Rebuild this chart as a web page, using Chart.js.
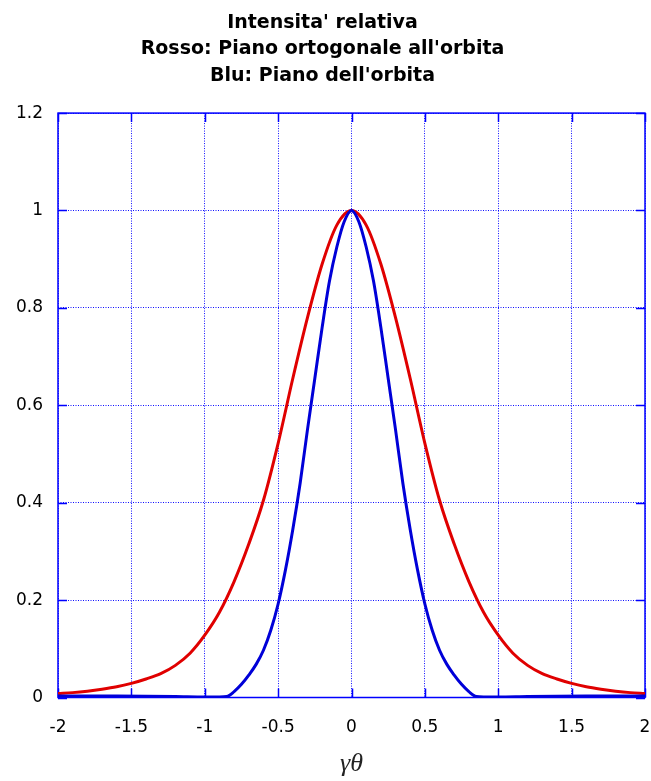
<!DOCTYPE html>
<html>
<head>
<meta charset="utf-8">
<script src="https://cdn.jsdelivr.net/npm/chart.js@4/dist/chart.umd.min.js"></script>
<style>
    html, body { margin: 0; padding: 0; background: #fff; }
    #wrap { width: 651px; height: 781px; }
</style>
</head>
<body>
<div id="wrap"><canvas id="intensityChart"></canvas></div>
<script>
// gamma*theta values for the red curve (piano ortogonale)
const redX = [-2, -1.9, -1.8, -1.7, -1.6, -1.5, -1.4, -1.3, -1.2, -1.1, -1,
    -0.9, -0.8, -0.7, -0.6, -0.5, -0.4, -0.3, -0.2, -0.1, 0,
    0.1, 0.2, 0.3, 0.4, 0.5, 0.6, 0.7, 0.8, 0.9, 1,
    1.1, 1.2, 1.3, 1.4, 1.5, 1.6, 1.7, 1.8, 1.9, 2];
const redY = [0.008, 0.010, 0.013, 0.017, 0.022, 0.029, 0.038, 0.049, 0.066, 0.091, 0.128,
    0.175, 0.238, 0.315, 0.405, 0.522, 0.655, 0.78, 0.89, 0.97, 1.0,
    0.97, 0.89, 0.78, 0.655, 0.522, 0.405, 0.315, 0.238, 0.175, 0.128,
    0.091, 0.066, 0.049, 0.038, 0.029, 0.022, 0.017, 0.013, 0.010, 0.008];

// gamma*theta values for the blue curve (piano dell'orbita)
const blueX = [-2, -1.6, -1.2, -1, -0.9, -0.85, -0.8, -0.75, -0.7, -0.65, -0.6, -0.55,
    -0.5, -0.45, -0.4, -0.35, -0.3, -0.25, -0.2, -0.15, -0.1, -0.05, 0,
    0.05, 0.1, 0.15, 0.2, 0.25, 0.3, 0.35, 0.4, 0.45, 0.5,
    0.55, 0.6, 0.65, 0.7, 0.75, 0.8, 0.85, 0.9, 1, 1.2, 1.6, 2];
const blueY = [0.003, 0.003, 0.002, 0.001, 0.001, 0.002, 0.012, 0.027, 0.046, 0.068, 0.097, 0.138,
    0.192, 0.262, 0.345, 0.44, 0.55, 0.655, 0.76, 0.855, 0.925, 0.977, 1.0,
    0.977, 0.925, 0.855, 0.76, 0.655, 0.55, 0.44, 0.345, 0.262, 0.192,
    0.138, 0.097, 0.068, 0.046, 0.027, 0.012, 0.002, 0.001, 0.001, 0.002, 0.003, 0.003];

const xTicks = [-2, -1.5, -1, -0.5, 0, 0.5, 1, 1.5, 2];
const yTicks = [0, 0.2, 0.4, 0.6, 0.8, 1, 1.2];

const titleLines = ["Intensita' relativa", "Rosso: Piano ortogonale all'orbita", "Blu: Piano dell'orbita"];

const frameBlue = "#0000ff";
const gridBlue = "rgba(0,0,255,0.95)";
const tickFont = { family: "DejaVu Sans", size: 17 };

// solid frame + short inward ticks on every side
const frameTicks = {
    id: "frameTicks",
    beforeDatasetsDraw(chart) {
        const { ctx, chartArea: a, scales } = chart;
        const tl = 9;
        ctx.save();
        ctx.strokeStyle = frameBlue;
        ctx.lineWidth = 1.5;
        ctx.beginPath();
        xTicks.forEach((v) => {
            const px = Math.round(scales.x.getPixelForValue(v)) + 0.5;
            ctx.moveTo(px, a.bottom);
            ctx.lineTo(px, a.bottom - tl);
            ctx.moveTo(px, a.top);
            ctx.lineTo(px, a.top + tl);
        });
        yTicks.forEach((v) => {
            const py = Math.round(scales.y.getPixelForValue(v)) + 0.5;
            ctx.moveTo(a.left, py);
            ctx.lineTo(a.left + tl, py);
            ctx.moveTo(a.right, py);
            ctx.lineTo(a.right - tl, py);
        });
        ctx.stroke();
        ctx.strokeRect(a.left, a.top, a.right - a.left, a.bottom - a.top);
        ctx.restore();
    },
};

let intensityCtx = document.getElementById("intensityChart").getContext("2d");
let intensityChart = new Chart(intensityCtx, {
    type: "line",
    data: {
        datasets: [
            {
                label: "Piano dell'orbita",
                data: blueX.map((x, i) => ({ x: x, y: blueY[i] })),
                borderColor: "#0000d8",
                borderWidth: 3,
                pointRadius: 0,
                cubicInterpolationMode: "monotone",
            },
            {
                label: "Piano ortogonale all'orbita",
                data: redX.map((x, i) => ({ x: x, y: redY[i] })),
                borderColor: "#e00000",
                borderWidth: 3,
                pointRadius: 0,
                cubicInterpolationMode: "monotone",
            },
        ],
    },
    options: {
        maintainAspectRatio: false,
        responsive: true,
        animation: false,
        layout: { padding: { left: 0, right: 6, top: 0, bottom: 0 } },
        plugins: {
            legend: { display: false },
            tooltip: { enabled: false },
            title: {
                display: true,
                text: titleLines,
                color: "#000",
                font: { family: "DejaVu Sans", size: 19, weight: "bold", lineHeight: 1.405 },
                padding: { top: 9.5, bottom: 23.5 },
            },
        },
        scales: {
            x: {
                type: "linear",
                min: -2,
                max: 2,
                afterBuildTicks: (s) => { s.ticks = xTicks.map((v) => ({ value: v })); },
                afterFit: (s) => { s.height = 83.5; s.paddingLeft = 0; s.paddingRight = 0; },
                ticks: {
                    callback: (v) => String(v),
                    color: "#000",
                    font: tickFont,
                    padding: 20,
                    maxRotation: 0,
                    autoSkip: false,
                },
                grid: { color: gridBlue, lineWidth: 1, drawTicks: false },
                border: { display: false, dash: [1, 1.5] },
                title: {
                    display: true,
                    text: "γθ",
                    color: "#222",
                    font: { family: "Liberation Serif", style: "italic", size: 26 },
                    padding: { top: 0, bottom: 1 },
                },
            },
            y: {
                min: 0,
                max: 1.2,
                afterBuildTicks: (s) => { s.ticks = yTicks.map((v) => ({ value: v })); },
                afterFit: (s) => { s.width = 58; },
                ticks: {
                    callback: (v) => String(v),
                    color: "#000",
                    font: tickFont,
                    padding: 15,
                },
                grid: { color: gridBlue, lineWidth: 1, drawTicks: false },
                border: { display: false, dash: [1, 1.5] },
            },
        },
    },
    plugins: [frameTicks],
});
</script>
</body>
</html>
